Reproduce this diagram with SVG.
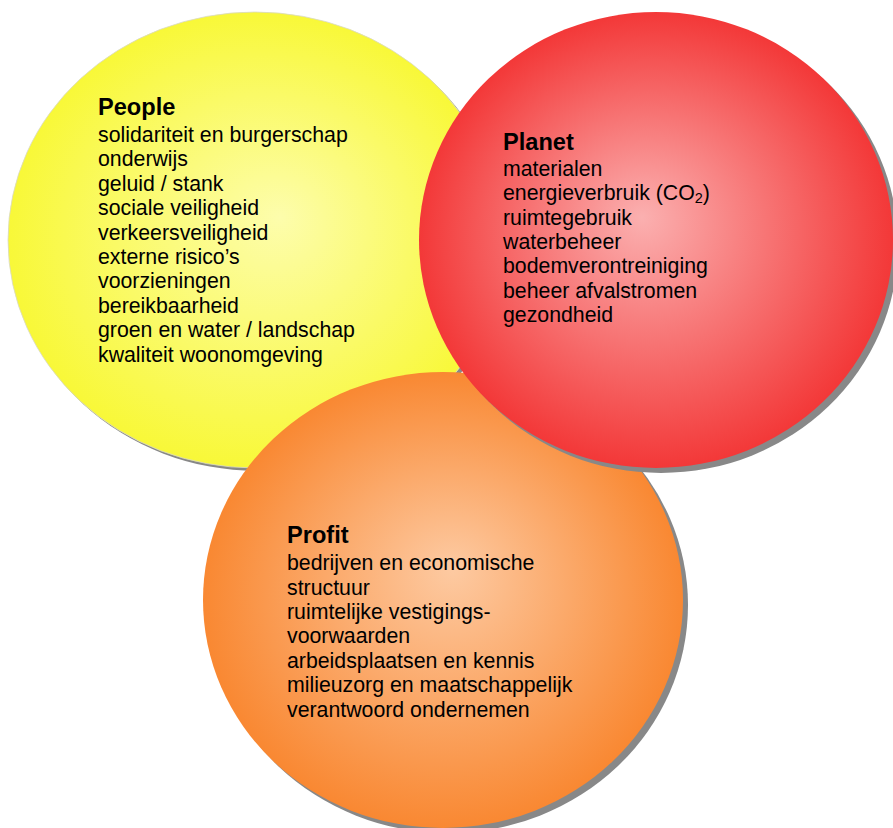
<svg xmlns="http://www.w3.org/2000/svg" width="893" height="828" viewBox="0 0 893 828">
<style>
text{font-family:"Liberation Sans",Arial,sans-serif;font-size:21.3px;fill:#000}
.h{font-weight:bold;font-size:23.6px}
.sh{fill:#888}
</style>
<defs>
<radialGradient id="gy" cx="0.5" cy="0.5" r="0.5" fx="0.55" fy="0.45">
<stop offset="0" stop-color="#fdfdac"/><stop offset="1" stop-color="#f8f838"/>
</radialGradient>
<radialGradient id="gr" cx="0.5" cy="0.5" r="0.5" fx="0.47" fy="0.45">
<stop offset="0" stop-color="#fbb0b0"/><stop offset="1" stop-color="#f33838"/>
</radialGradient>
<radialGradient id="go" cx="0.5" cy="0.5" r="0.5" fx="0.52" fy="0.43">
<stop offset="0" stop-color="#fdcaa2"/><stop offset="1" stop-color="#f98832"/>
</radialGradient>
</defs>
<g id="people">
<ellipse class="sh" cx="258" cy="243" rx="247" ry="228"/>
<ellipse cx="255" cy="240" rx="247" ry="228" fill="url(#gy)" stroke="#d8d8c8" stroke-width="0.8"/>
<text x="98" y="115" class="h">People</text>
<text x="98" y="141.7">solidariteit en burgerschap</text>
<text x="98" y="166.1">onderwijs</text>
<text x="98" y="190.6">geluid / stank</text>
<text x="98" y="215">sociale veiligheid</text>
<text x="98" y="239.5">verkeersveiligheid</text>
<text x="98" y="263.9">externe risico’s</text>
<text x="98" y="288.3">voorzieningen</text>
<text x="98" y="312.8">bereikbaarheid</text>
<text x="98" y="337.2">groen en water / landschap</text>
<text x="98" y="361.7">kwaliteit woonomgeving</text>
</g>
<g id="profit">
<ellipse class="sh" cx="448" cy="605" rx="240" ry="228"/>
<ellipse cx="443" cy="600" rx="240" ry="228" fill="url(#go)"/>
<text x="287" y="543.3" class="h">Profit</text>
<text x="287" y="570">bedrijven en economische</text>
<text x="287" y="594.5">structuur</text>
<text x="287" y="618.9">ruimtelijke vestigings-</text>
<text x="287" y="643.4">voorwaarden</text>
<text x="287" y="667.8">arbeidsplaatsen en kennis</text>
<text x="287" y="692.3">milieuzorg en maatschappelijk</text>
<text x="287" y="716.7">verantwoord ondernemen</text>
</g>
<g id="planet">
<ellipse class="sh" cx="661" cy="245" rx="237" ry="228"/>
<ellipse cx="656" cy="240" rx="237" ry="228" fill="url(#gr)"/>
<text x="503" y="150" class="h">Planet</text>
<text x="503" y="175.7">materialen</text>
<text x="503" y="200.1">energieverbruik (CO<tspan font-size="14.5" dy="3">2</tspan><tspan dy="-3">)</tspan></text>
<text x="503" y="224.6">ruimtegebruik</text>
<text x="503" y="249">waterbeheer</text>
<text x="503" y="273.4">bodemverontreiniging</text>
<text x="503" y="297.9">beheer afvalstromen</text>
<text x="503" y="322.3">gezondheid</text>
</g>
<g id="connectors"/>
</svg>
